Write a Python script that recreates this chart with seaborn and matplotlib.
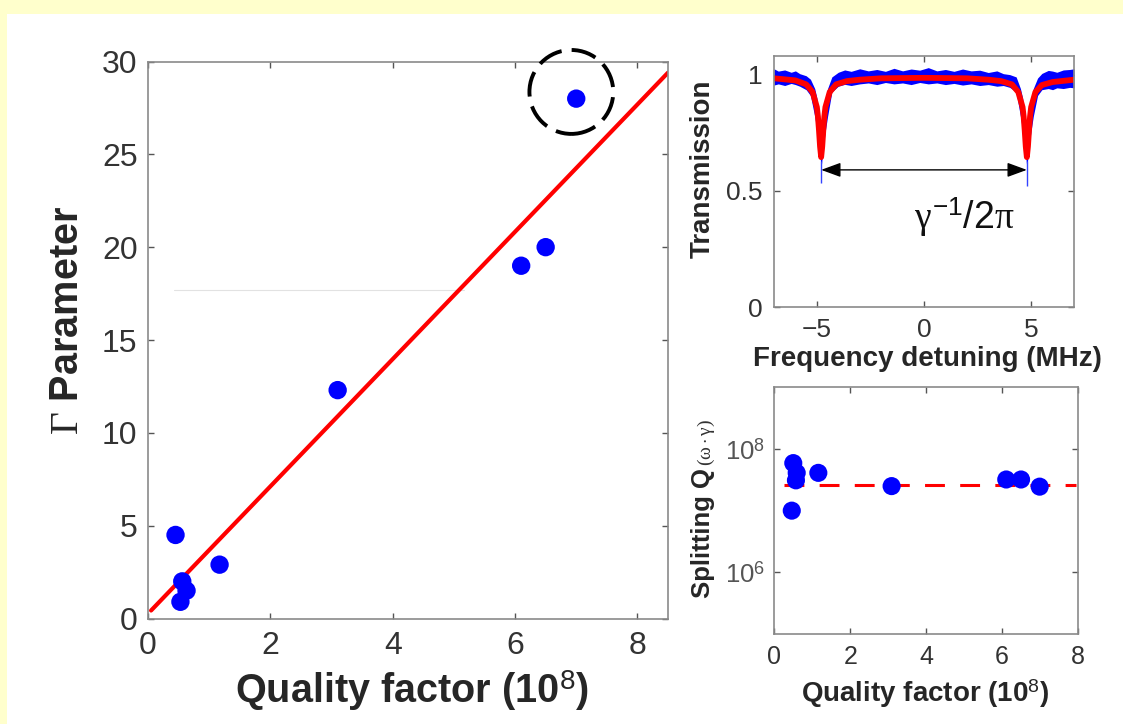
import matplotlib
matplotlib.use("Agg")
import matplotlib.pyplot as plt
from matplotlib.patches import Rectangle, Ellipse
from matplotlib.ticker import FixedLocator, NullLocator, FixedFormatter
import seaborn as sns
import pandas as pd

# ---------------- data ----------------
# main panel: Gamma parameter vs quality factor
quality_factor = [0.45, 0.53, 0.56, 0.63, 1.17, 3.10, 6.10, 6.50, 7.00]
gamma_param = [4.5, 0.9, 2.0, 1.5, 2.9, 12.3, 19.0, 20.0, 28.0]
fit_x = [0.05, 8.5]
fit_y = [0.43, 29.4]
main_xticks = [0, 2, 4, 6, 8]
main_yticks = [0, 5, 10, 15, 20, 25, 30]
highlight_center = (6.92, 28.36)
faint_line_x = [0.42, 5.16]
faint_line_y = [17.7, 17.7]

# top-right: transmission spectrum
fit_detuning = [-7.0, -6.0, -5.5, -5.2, -5.0, -4.95, -4.9, -4.85, -4.8, -4.75, -4.7, -4.65,
                -4.6, -4.4, -4.1, -3.6, -3.0, -2.0, 0.0, 2.0, 3.0, 3.6, 4.1, 4.4, 4.6, 4.65,
                4.7, 4.75, 4.8, 4.85, 4.9, 4.95, 5.0, 5.2, 5.5, 6.0, 7.0]
fit_transmission = [0.984, 0.975, 0.958, 0.925, 0.86, 0.82, 0.76, 0.69, 0.645, 0.69, 0.76, 0.82,
                    0.86, 0.925, 0.958, 0.972, 0.978, 0.984, 0.986, 0.984, 0.978, 0.972, 0.958,
                    0.925, 0.86, 0.82, 0.76, 0.69, 0.645, 0.69, 0.76, 0.82, 0.86, 0.925, 0.955,
                    0.968, 0.978]
band_detuning = [-7.0, -6.8, -6.5, -6.2, -6.0, -5.8, -5.5, -5.3, -5.1, -5.0, -4.9, -4.8, -4.7,
                 -4.6, -4.5, -4.3, -4.0, -3.7, -3.4, -3.0, -2.6, -2.2, -1.8, -1.4, -1.0, -0.6,
                 -0.2, 0.2, 0.6, 1.0, 1.4, 1.8, 2.2, 2.6, 3.0, 3.4, 3.7, 4.0, 4.3, 4.5, 4.6,
                 4.7, 4.8, 4.9, 5.0, 5.1, 5.3, 5.5, 5.8, 6.0, 6.2, 6.5, 6.8, 7.0]
band_upper = [1.025, 1.015, 1.02, 1.01, 1.016, 1.004, 0.995, 0.98, 0.94, 0.90, 0.82, 0.70, 0.82,
              0.90, 0.94, 0.99, 1.01, 1.02, 1.014, 1.025, 1.016, 1.022, 1.014, 1.027, 1.016,
              1.024, 1.019, 1.03, 1.016, 1.022, 1.014, 1.024, 1.016, 1.019, 1.009, 1.016, 1.004,
              1.0, 0.99, 0.94, 0.90, 0.82, 0.70, 0.82, 0.90, 0.94, 0.985, 1.005, 1.018, 1.015,
              1.01, 1.02, 1.022, 1.025]
band_lower = [0.955, 0.96, 0.953, 0.962, 0.957, 0.95, 0.935, 0.91, 0.82, 0.76, 0.69, 0.60, 0.69,
              0.76, 0.82, 0.925, 0.95, 0.958, 0.953, 0.96, 0.964, 0.957, 0.966, 0.96, 0.964,
              0.957, 0.966, 0.96, 0.964, 0.957, 0.962, 0.955, 0.96, 0.953, 0.957, 0.95, 0.953,
              0.945, 0.925, 0.82, 0.76, 0.69, 0.60, 0.69, 0.76, 0.82, 0.91, 0.935, 0.94, 0.935,
              0.943, 0.94, 0.945, 0.943]
dip_centers = [-4.8, 4.8]
dip_tail_top = [0.63, 0.63]
dip_tail_bottom = [0.535, 0.52]
arrow_y = 0.59
spec_xticks = [-5, 0, 5]
spec_yticks = [0, 0.5, 1]
spec_ytick_labels = ["0", "0.5", "1"]

# bottom-right: splitting Q vs quality factor
split_qf = [0.46, 0.50, 0.57, 0.59, 1.16, 3.09, 6.11, 6.50, 6.99]
split_q = [1.0e7, 5.9e7, 3.1e7, 4.1e7, 4.1e7, 2.5e7, 3.2e7, 3.2e7, 2.45e7]
split_mean_x = [0.25, 7.95]
split_mean_y = [2.6e7, 2.6e7]
split_xticks = [0, 2, 4, 6, 8]
split_yticks = [1e6, 1e8]
split_ytick_labels = [r"$\mathsf{10}^{\mathsf{6}}$", r"$\mathsf{10}^{\mathsf{8}}$"]

# ---------------- style ----------------
sns.set_theme(style="ticks")
plt.rcParams["font.family"] = ["Liberation Sans", "DejaVu Sans"]
plt.rcParams["mathtext.fontset"] = "custom"
plt.rcParams["mathtext.rm"] = "Liberation Serif"
plt.rcParams["mathtext.it"] = "Liberation Serif"
plt.rcParams["mathtext.sf"] = "Liberation Sans"
plt.rcParams["mathtext.bf"] = "Liberation Sans:bold"
plt.rcParams["axes.unicode_minus"] = True

SPINE = "#8a8a8a"
TICKC = "#333333"
BLUE = "#0000ff"
RED = "#ff0000"

fig = plt.figure(figsize=(11.23, 7.24), dpi=100)
fig.patch.set_facecolor("#ffffcc")
fig.patches.append(Rectangle((7 / 1123, 0), 1, (724 - 14) / 724, transform=fig.transFigure,
                             facecolor="white", edgecolor="none", zorder=-10))


def style_axes(ax, size, pad_x, pad_y, color=TICKC):
    for s in ax.spines.values():
        s.set_color(SPINE)
        s.set_linewidth(1.2)
        s.set_visible(True)
    ax.tick_params(which="both", direction="in", top=True, right=True, length=4,
                   width=1, color="#555555", labelsize=size, labelcolor=color)
    ax.tick_params(axis="x", pad=pad_x)
    ax.tick_params(axis="y", pad=pad_y)
    ax.set_facecolor("white")


# ---------------- main panel ----------------
ax = fig.add_axes([148 / 1123, (724 - 618.5) / 724, 520 / 1123, 557 / 724])
df_main = pd.DataFrame({"q": quality_factor, "g": gamma_param})
df_fit = pd.DataFrame({"x": fit_x, "y": fit_y})
ax.plot(faint_line_x, faint_line_y, color="#e2e2e2", lw=0.8, zorder=1)
sns.lineplot(data=df_fit, x="x", y="y", ax=ax, color=RED, lw=3, zorder=2)
sns.scatterplot(data=df_main, x="q", y="g", ax=ax, color=BLUE, s=175, edgecolor="none", zorder=3)
ax.add_patch(Ellipse(highlight_center, width=1.37, height=4.52, fill=False, edgecolor="black",
                     lw=2.8, linestyle=(0, (6.5, 2.6)), clip_on=False, zorder=4))
ax.set_xlim(0, 8.5)
ax.set_ylim(0, 30)
ax.set_xticks(main_xticks)
ax.set_yticks(main_yticks)
style_axes(ax, 23, 9, 7.5)
ax.set_xlabel(r"Quality factor (10$^{\mathsf{8}}$)", fontsize=28.5, fontweight="bold", va="baseline")
ax.xaxis.set_label_coords(0.507, -0.152)
ax.set_ylabel(r"$\Gamma$ Parameter", fontsize=28.5, fontweight="bold", va="center")
ax.yaxis.set_label_coords(-0.155, 0.536)

# ---------------- top-right: transmission ----------------
ax2 = fig.add_axes([774 / 1123, (724 - 307) / 724, 300 / 1123, 251 / 724])
ax2.fill_between(band_detuning, band_lower, band_upper, color=BLUE, lw=0, zorder=1)
ax2.vlines(dip_centers, dip_tail_bottom, dip_tail_top, color="#3344ff", lw=1, zorder=1)
df_spec = pd.DataFrame({"d": fit_detuning, "t": fit_transmission})
sns.lineplot(data=df_spec, x="d", y="t", ax=ax2, color=RED, lw=4.2, sort=False, zorder=2)
ax2.annotate("", xy=(dip_centers[1], arrow_y), xytext=(dip_centers[0], arrow_y),
             arrowprops=dict(arrowstyle="<|-|>,head_length=0.6,head_width=0.22",
                             color="black", lw=1, shrinkA=0, shrinkB=0, mutation_scale=20),
             zorder=5)
ax2.text(1.86, 0.385, r"$\gamma^{\mathsf{-1}}\mathsf{/2}\pi$", fontsize=27, ha="center",
         va="center", color="#111111")
ax2.set_xlim(-7, 7)
ax2.set_ylim(0, 1.08)
ax2.set_xticks(spec_xticks)
ax2.yaxis.set_major_locator(FixedLocator(spec_yticks))
ax2.yaxis.set_major_formatter(FixedFormatter(spec_ytick_labels))
style_axes(ax2, 19, 8, 8.5)
ax2.set_xlabel("Frequency detuning (MHz)", fontsize=20, fontweight="bold", va="baseline")
ax2.xaxis.set_label_coords(0.512, -0.235)
ax2.set_ylabel("Transmission", fontsize=20, fontweight="bold", va="center")
ax2.yaxis.set_label_coords(-0.237, 0.55)

# ---------------- bottom-right: splitting Q ----------------
ax3 = fig.add_axes([774.3 / 1123, (724 - 634) / 724, 303.7 / 1123, 246.7 / 724])
df_split = pd.DataFrame({"q": split_qf, "s": split_q})
df_mean = pd.DataFrame({"x": split_mean_x, "y": split_mean_y})
sns.lineplot(data=df_mean, x="x", y="y", ax=ax3, color=RED, lw=2.2,
             linestyle=(0, (6.5, 5)), zorder=2)
sns.scatterplot(data=df_split, x="q", y="s", ax=ax3, color=BLUE, s=170, edgecolor="none", zorder=3)
ax3.set_yscale("log")
ax3.set_xlim(0, 8)
ax3.set_ylim(1e5, 1e9)
ax3.set_xticks(split_xticks)
ax3.yaxis.set_major_locator(FixedLocator(split_yticks))
ax3.yaxis.set_major_formatter(FixedFormatter(split_ytick_labels))
ax3.yaxis.set_minor_locator(NullLocator())
style_axes(ax3, 18, 8, 6.5)
ax3.tick_params(axis="y", labelsize=18.5, labelcolor="#555555")
ax3.set_xlabel(r"Quality factor (10$^{\mathsf{8}}$)", fontsize=20, fontweight="bold", va="baseline")
ax3.xaxis.set_label_coords(0.496, -0.274)
ax3.set_ylabel("")
ax3.text(-0.236, 0.146, "Splitting Q", transform=ax3.transAxes, rotation=90, ha="center",
         va="bottom", fontsize=18.5, fontweight="bold")
ax3.text(-0.222, 0.68, r"$(\omega\cdot\gamma)$", transform=ax3.transAxes, rotation=90,
         ha="center", va="bottom", fontsize=14, color="#333333")

fig.savefig("out.png", dpi=100, facecolor=fig.get_facecolor())
